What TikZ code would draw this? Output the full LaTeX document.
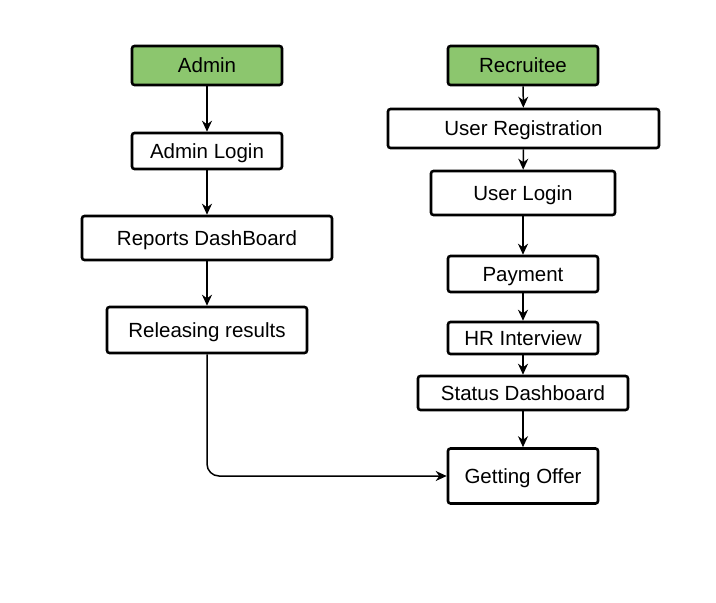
\documentclass[tikz,border=0pt]{standalone}
\usepackage{fontspec}
\setmainfont{Liberation Sans}
\usetikzlibrary{arrows.meta}
\definecolor{boxgreen}{HTML}{8CC66E}

\begin{document}
\begin{tikzpicture}[x=1pt,y=-1pt,
  box/.style={draw, line width=2.6pt, rounded corners=2.5pt, fill=white,
    font=\fontsize{20.5}{24}\selectfont, inner sep=0pt,
    text height=14.7pt, text depth=0pt},
  start/.style={box, fill=boxgreen},
  flow/.style={line width=1.5pt, -{Stealth[length=11pt,width=10pt]}}]
\useasboundingbox (0,0) rectangle (716,603);
\node[start, minimum width=150pt, minimum height=39pt] (admin) at (207,65.5) {Admin};
\node[box, minimum width=150pt, minimum height=36pt] (adminlogin) at (207,151) {Admin Login};
\node[box, minimum width=250pt, minimum height=44pt] (reports) at (207,238) {Reports DashBoard};
\node[box, minimum width=200pt, minimum height=46pt] (release) at (207,330) {Releasing results};
\node[start, minimum width=150pt, minimum height=39pt] (recruitee) at (523,65.5) {Recruitee};
\node[box, minimum width=271pt, minimum height=39pt] (register) at (523.5,128.5) {User Registration};
\node[box, minimum width=184pt, minimum height=44pt] (userlogin) at (523,193) {User Login};
\node[box, minimum width=150pt, minimum height=36pt] (payment) at (523,274) {Payment};
\node[box, minimum width=150pt, minimum height=32pt] (hr) at (523,338) {HR Interview};
\node[box, minimum width=210pt, minimum height=34pt] (status) at (523,393) {Status Dashboard};
\node[box, minimum width=150pt, minimum height=55pt] (offer) at (523,476) {Getting Offer};
\draw[flow] (admin) -- (adminlogin);
\draw[flow] (adminlogin) -- (reports);
\draw[flow] (reports) -- (release);
\draw[flow] (recruitee) -- (register);
\draw[flow] (register) -- (userlogin);
\draw[flow] (userlogin) -- (payment);
\draw[flow] (payment) -- (hr);
\draw[flow] (hr) -- (status);
\draw[flow] (status) -- (offer);
\draw[flow, rounded corners=12pt] (release) |- (offer);
\end{tikzpicture}
\end{document}
